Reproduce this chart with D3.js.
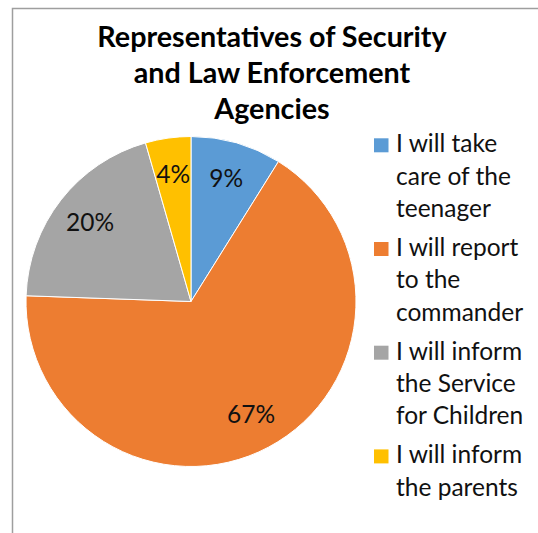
<!DOCTYPE html>
<html>
<head>
<meta charset="utf-8">
<script src="https://cdn.jsdelivr.net/npm/d3@7"></script>
<style>
  body { margin: 0; background: #fff; }
  svg { display: block; font-family: Lato, "Open Sans", sans-serif; }
</style>
</head>
<body>
<svg id="chart" width="538" height="533"></svg>
<script>
// counts (share of 45 answers)
var categories = ["I will take care of the teenager", "I will report to the commander",
                  "I will inform the Service for Children", "I will inform the parents"];
var legendLines = [["I will take", "care of the", "teenager"],
                   ["I will report", "to the", "commander"],
                   ["I will inform", "the Service", "for Children"],
                   ["I will inform", "the parents"]];
var counts = [4, 30, 9, 2];
var colors = ["#5B9BD5", "#ED7D31", "#A5A5A5", "#FFC000"];
var titleLines = ["Representatives of Security", "and Law Enforcement", "Agencies"];

var svg = d3.select("#chart");

// outer frame (cropped on the right and bottom)
svg.append("path")
  .attr("d", "M12.5,540 V8.5 H545")
  .attr("fill", "none")
  .attr("stroke", "#9e9e9e")
  .attr("stroke-width", 1.5);

// title
svg.append("g").selectAll("text")
  .data(titleLines)
  .enter().append("text")
  .attr("x", 272)
  .attr("y", function(d, i) { return 47 + i * 36; })
  .attr("text-anchor", "middle")
  .style("font-size", "28.7px")
  .style("font-weight", "bold")
  .attr("fill", "#000")
  .text(function(d) { return d; });

// pie
var radius = 165;
var pie = d3.pie().sort(null).value(function(d) { return d; });
var arc = d3.arc().innerRadius(0).outerRadius(radius);
var labelArc = d3.arc().innerRadius(128).outerRadius(128);
var total = d3.sum(counts);

var g = svg.append("g").attr("transform", "translate(191,301.5)");
var slices = pie(counts);

g.selectAll("path")
  .data(slices)
  .enter().append("path")
  .attr("d", arc)
  .attr("fill", function(d, i) { return colors[i]; })
  .attr("stroke", "#fff")
  .attr("stroke-width", 1);

g.selectAll("text")
  .data(slices)
  .enter().append("text")
  .attr("transform", function(d) { return "translate(" + labelArc.centroid(d) + ")"; })
  .attr("text-anchor", "middle")
  .attr("dy", "0.35em")
  .style("font-size", "24.5px")
  .attr("fill", "#111")
  .text(function(d) { return d3.format(".0%")(d.value / total); });

// legend
var legend = svg.append("g").selectAll("g")
  .data(categories)
  .enter().append("g")
  .attr("transform", function(d, i) { return "translate(374," + (152.3 + i * 103.7) + ")"; });

legend.append("rect")
  .attr("y", -14)
  .attr("width", 14.5)
  .attr("height", 14)
  .attr("fill", function(d, i) { return colors[i]; });

legend.append("text")
  .attr("x", 22)
  .style("font-size", "24.5px")
  .attr("fill", "#111")
  .selectAll("tspan")
  .data(function(d, i) { return legendLines[i]; })
  .enter().append("tspan")
  .attr("x", 22)
  .attr("y", function(d, j) { return j * 32.3; })
  .text(function(d) { return d; });
</script>
</body>
</html>
